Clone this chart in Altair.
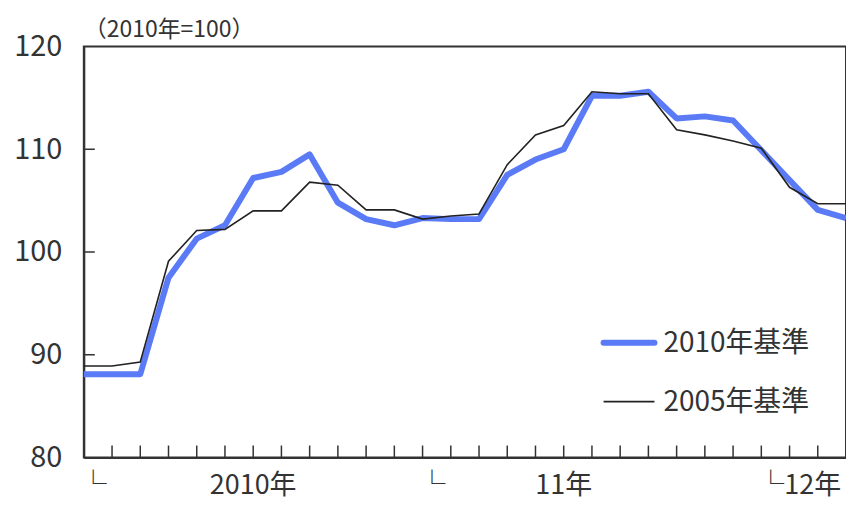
import altair as alt
import pandas as pd

# Months Jan 2010 .. Apr 2012 (index 0..27)
month_index = list(range(28))
base2010 = [88.1, 88.1, 88.1, 97.5, 101.3, 102.6, 107.2, 107.8, 109.5, 104.8,
            103.2, 102.6, 103.3, 103.2, 103.2, 107.5, 109.0, 110.0, 115.2, 115.2,
            115.6, 113.0, 113.2, 112.8, 109.9, 107.0, 104.1, 103.3]
base2005 = [88.9, 88.9, 89.3, 99.1, 102.1, 102.2, 104.0, 104.0, 106.8, 106.5,
            104.1, 104.1, 103.2, 103.5, 103.7, 108.5, 111.4, 112.3, 115.6, 115.4,
            115.4, 111.9, 111.4, 110.8, 110.1, 106.3, 104.7, 104.7]
series_names = ["2010年基準", "2005年基準"]
y_ticks = [80, 90, 100, 110, 120]
year_corner_pos = [0, 12]
year_corner_text = ["└", "└"]
year_label_pos = [6, 17]
year_label_text = ["2010年", "11年"]
last_year_pos = [24]
last_year_text = ["└12年"]
unit_note = "（2010年=100）"

W, H = 764, 412
FONT = "Noto Sans CJK JP"
BLUE = "#5B7BF6"
DARK = "#333333"

df = pd.DataFrame({"m": month_index, "a": base2010, "b": base2005})

xs = alt.Scale(domain=[0, 27], nice=False, zero=False)
ys = alt.Scale(domain=[80, 120], nice=False, zero=False)

X = alt.X("m:Q", scale=xs, axis=alt.Axis(title=None, labels=False, ticks=False,
                                          grid=False, domainColor=DARK, domainWidth=2))
YA = alt.Axis(title=None, values=y_ticks, ticks=False, grid=False,
              labelFont=FONT, labelFontSize=29, labelColor=DARK,
              labelPadding=22, domainColor=DARK, domainWidth=2)

base = alt.Chart(df)

blue = base.mark_line(color=BLUE, strokeWidth=6, strokeJoin="round").encode(
    x=X, y=alt.Y("a:Q", scale=ys, axis=YA))
black = base.mark_line(color="#222222", strokeWidth=1.6).encode(
    x=alt.X("m:Q", scale=xs), y=alt.Y("b:Q", scale=ys))

# inward ticks
xt = alt.Chart(pd.DataFrame({"m": month_index})).mark_rule(color=DARK, strokeWidth=1.5).encode(
    x=alt.X("m:Q", scale=xs), y=alt.value(H), y2=alt.value(H - 12))
yt = alt.Chart(pd.DataFrame({"v": y_ticks[1:-1]})).mark_rule(color=DARK, strokeWidth=1.5).encode(
    y=alt.Y("v:Q", scale=ys), x=alt.value(0), x2=alt.value(11))

corner = alt.Chart(pd.DataFrame({"m": year_corner_pos + last_year_pos,
                                 "t": year_corner_text + last_year_text})).mark_text(
    font=FONT, fontSize=27, color=DARK, align="left", baseline="middle", dx=-4).encode(
    x=alt.X("m:Q", scale=xs), y=alt.value(H + 29), text="t:N")
ylab = alt.Chart(pd.DataFrame({"m": year_label_pos, "t": year_label_text})).mark_text(
    font=FONT, fontSize=27, color=DARK, align="center", baseline="middle").encode(
    x=alt.X("m:Q", scale=xs), y=alt.value(H + 29), text="t:N")

note = alt.Chart(pd.DataFrame({"t": [unit_note]})).mark_text(
    font=FONT, fontSize=23, color=DARK, align="left", baseline="middle").encode(
    x=alt.value(0), y=alt.value(-17), text="t:N")

leg_blue = alt.Chart(pd.DataFrame({"s": [series_names[0]]})).mark_rule(
    color=BLUE, strokeWidth=6, strokeCap="round").encode(
    x=alt.value(521), x2=alt.value(572), y=alt.value(297))
leg_black = alt.Chart(pd.DataFrame({"s": [series_names[1]]})).mark_rule(
    color="#222222", strokeWidth=1.6).encode(
    x=alt.value(521), x2=alt.value(572), y=alt.value(356))
leg_t1 = alt.Chart(pd.DataFrame({"s": [series_names[0]]})).mark_text(
    font=FONT, fontSize=28, color=DARK, align="left", baseline="middle").encode(
    x=alt.value(581), y=alt.value(298), text="s:N")
leg_t2 = alt.Chart(pd.DataFrame({"s": [series_names[1]]})).mark_text(
    font=FONT, fontSize=28, color=DARK, align="left", baseline="middle").encode(
    x=alt.value(581), y=alt.value(357), text="s:N")

chart = alt.layer(blue, black, xt, yt, corner, ylab, note, leg_blue, leg_black, leg_t1, leg_t2).properties(
    width=W, height=H,
    autosize=alt.AutoSizeParams(type="none"),
    padding={"left": 76, "top": 38, "right": 0, "bottom": 44},
    background="white",
).configure_view(stroke=DARK, strokeWidth=2)

chart.save("out.html", embed_options={"renderer": "svg", "actions": False})
